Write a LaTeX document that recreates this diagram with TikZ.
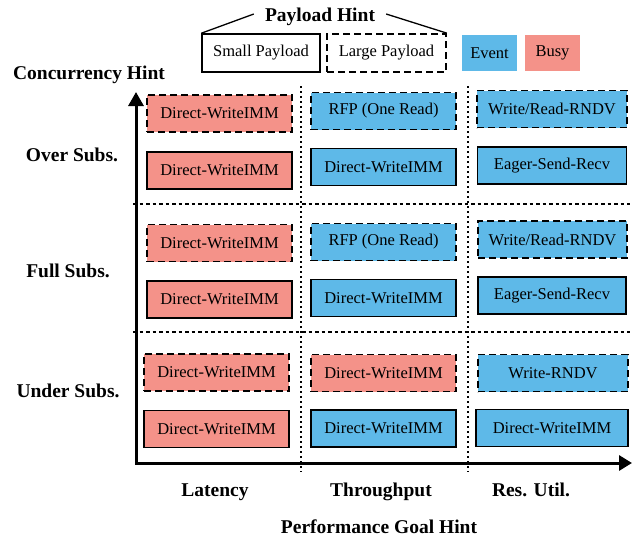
\documentclass[tikz,border=0pt]{standalone}
\usepackage{fontspec}
\setmainfont{Liberation Serif}
\usetikzlibrary{arrows.meta}
\definecolor{evblue}{RGB}{94,185,232}
\definecolor{busyred}{RGB}{244,146,137}
\begin{document}
\begin{tikzpicture}[x=1pt,y=-1pt,
  boxtext/.style={font=\fontsize{16.5}{19}\selectfont, inner sep=0pt, minimum height=37pt},
  small/.style={boxtext, draw=black, line width=1.5pt},
  large/.style={boxtext, draw=black, line width=1.7pt, dash pattern=on 7pt off 4pt},
  ev/.style={fill=evblue},
  busy/.style={fill=busyred},
  lbl/.style={font=\bfseries\fontsize{19.5}{22}\selectfont, inner sep=0pt, anchor=base},
  grid h/.style={line width=1.3pt, dash pattern=on 3.5pt off 3pt},
  grid v/.style={line width=1.3pt, dash pattern=on 2pt off 3pt},
  axis/.style={line width=3pt, {Triangle[length=14pt,width=15pt]}-{Triangle[length=13pt,width=15pt]}}
]
\useasboundingbox (0,0) rectangle (633,539);

% legend
\node[small, minimum width=118pt, minimum height=38pt] (lsmall) at (261,53) {Small Payload};
\node[large, minimum width=119pt, minimum height=38pt] (llarge) at (386.5,53) {Large Payload};
\node[boxtext, ev, minimum width=55pt, minimum height=36pt] (lev) at (489.5,53) {Event};
\node[boxtext, busy, minimum width=55pt, minimum height=36pt] (lbusy) at (552.5,53) {Busy};
\node[lbl, inner xsep=11pt] (phint) at (320,21) {Payload Hint};
\draw[line width=1.3pt] (lsmall.north west) -- ([yshift=7pt]phint.base west);
\draw[line width=1.3pt] ([yshift=7pt]phint.base east) -- (llarge.north east);

% grid separators
\coordinate (h1a) at (133,204); \coordinate (h1b) at (630,204);
\coordinate (h2a) at (133,332); \coordinate (h2b) at (630,332);
\coordinate (v1a) at (301,86);  \coordinate (v1b) at (301,472);
\coordinate (v2a) at (468,86);  \coordinate (v2b) at (468,472);
\draw[grid h] (h1a) -- (h1b);
\draw[grid h] (h2a) -- (h2b);
\draw[grid v] (v1a) -- (v1b);
\draw[grid v] (v2a) -- (v2b);

% axes
\coordinate (ytip) at (136,92);
\coordinate (origin) at (136,463);
\coordinate (xtip) at (632,463);
\draw[axis] (ytip) -- (origin) -- (xtip);

% axis labels
\node[lbl] (conc) at (89,79) {Concurrency Hint};
\node[lbl] (over) at (72,161) {Over Subs.};
\node[lbl] (full) at (68,277) {Full Subs.};
\node[lbl] (under) at (68,397) {Under Subs.};
\node[lbl] (lat) at (215,496) {Latency};
\node[lbl] (thr) at (381,496) {Throughput};
\node[lbl] (res) at (531,496) {Res. Util.};
\node[lbl] (perf) at (379,533) {Performance Goal Hint};

% latency column
\node[large, busy, minimum width=145pt] (a1) at (219.5,113.5) {Direct-WriteIMM};
\node[small, busy, minimum width=145pt] (a2) at (219.5,170.5) {Direct-WriteIMM};
\node[large, busy, minimum width=145pt] (a3) at (219.5,243) {Direct-WriteIMM};
\node[small, busy, minimum width=145pt] (a4) at (219.5,299.5) {Direct-WriteIMM};
\node[large, busy, minimum width=145pt] (a5) at (216.5,372.5) {Direct-WriteIMM};
\node[small, busy, minimum width=145pt] (a6) at (216.5,429) {Direct-WriteIMM};

% throughput column
\node[large, ev, minimum width=145pt] (b1) at (383.5,111) {RFP (One Read)};
\node[small, ev, minimum width=145pt] (b2) at (383.5,167) {Direct-WriteIMM};
\node[large, ev, minimum width=145pt] (b3) at (383.5,242) {RFP (One Read)};
\node[small, ev, minimum width=145pt] (b4) at (383.5,298) {Direct-WriteIMM};
\node[large, busy, minimum width=145pt] (b5) at (383.5,373) {Direct-WriteIMM};
\node[small, ev, minimum width=145pt] (b6) at (383.5,428.5) {Direct-WriteIMM};

% resource utilisation column
\node[large, ev, minimum width=150pt] (c1) at (552,109) {Write/Read-RNDV};
\node[small, ev, minimum width=149pt] (c2) at (552,165.5) {Eager-Send-Recv};
\node[large, ev, minimum width=149pt] (c3) at (552.5,239.5) {Write/Read-RNDV};
\node[small, ev, minimum width=148pt] (c4) at (552,295.5) {Eager-Send-Recv};
\node[large, ev, minimum width=150pt] (c5) at (553,373) {Write-RNDV};
\node[small, ev, minimum width=152pt] (c6) at (552,428) {Direct-WriteIMM};
\end{tikzpicture}
\end{document}
